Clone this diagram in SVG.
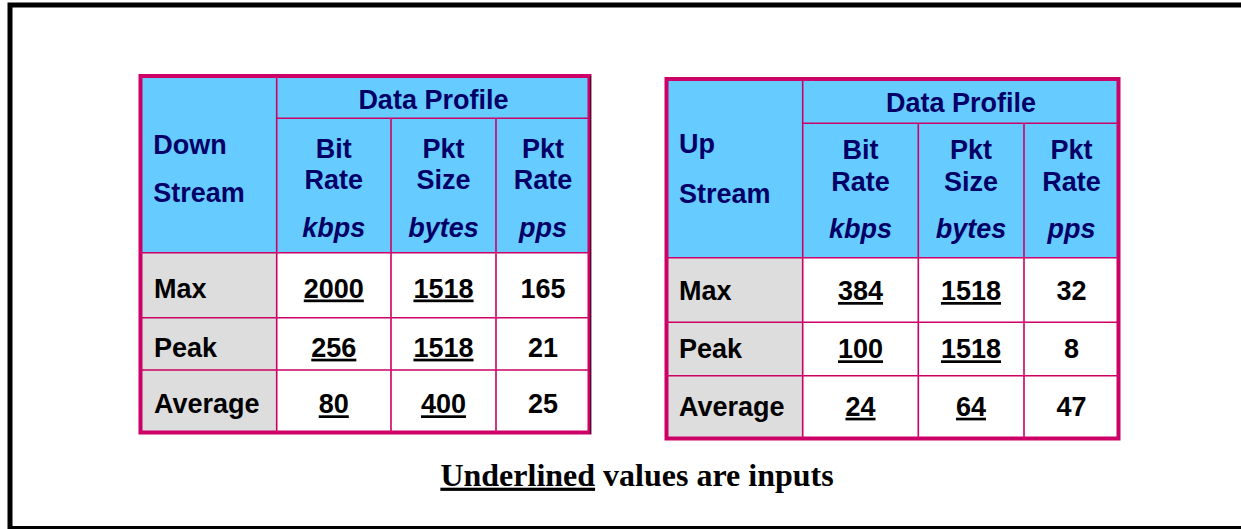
<svg xmlns="http://www.w3.org/2000/svg" width="1241" height="529" viewBox="0 0 1241 529">
<style>
.frame{fill:none;stroke:#000;stroke-width:5}
.outer{fill:none;stroke:#CC0066;stroke-width:4}
.grid{stroke:#CC0066;stroke-width:1.6;fill:none}
.hdr{fill:#66CCFF}
.gray{fill:#DDDDDD}
.cell{fill:#fff}
text{font-family:"Liberation Sans",Arial,Helvetica,sans-serif;font-weight:bold;font-size:27px}
.h{fill:#000066}
.hc{fill:#000066;text-anchor:middle}
.it{fill:#000066;text-anchor:middle;font-style:italic}
.lab{fill:#000}
.v{fill:#000;text-anchor:middle}
.u{text-decoration:underline}
.cap{font-family:"Liberation Serif","Times New Roman",serif;font-weight:bold;font-size:32px;fill:#000;text-anchor:middle}
</style>
<rect x="0" y="0" width="1241" height="529" fill="#fff"/>
<path class="frame" d="M1241,5 H10 V529 M10,528.5 H1241"/>

<g id="table-downstream">
<rect class="hdr" x="140.5" y="76" width="449" height="177"/>
<rect class="gray" x="140.5" y="253" width="136" height="179"/>
<rect class="cell" x="276.7" y="253" width="313" height="179"/>
<g class="grid">
<line x1="276.7" y1="76" x2="276.7" y2="432"/>
<line x1="391" y1="118.3" x2="391" y2="432"/>
<line x1="496" y1="118.3" x2="496" y2="432"/>
<line x1="276.7" y1="118.3" x2="589.5" y2="118.3"/>
<line x1="140.5" y1="252.7" x2="589.5" y2="252.7"/>
<line x1="140.5" y1="317.7" x2="589.5" y2="317.7"/>
<line x1="140.5" y1="370" x2="589.5" y2="370"/>
</g>
<rect class="outer" x="140.5" y="76" width="449" height="356.5"/>
<line x1="590.5" y1="76" x2="590.5" y2="434" stroke="#222" stroke-width="1"/>
<text class="h" x="153.3" y="153.5">Down</text>
<text class="h" x="153.3" y="201.7">Stream</text>
<text class="hc" x="433.4" y="109.3">Data Profile</text>
<text class="hc" x="333.8" y="158.3">Bit</text>
<text class="hc" x="333.8" y="189">Rate</text>
<text class="it" x="333.8" y="236.7">kbps</text>
<text class="hc" x="443.5" y="158.3">Pkt</text>
<text class="hc" x="443.5" y="189">Size</text>
<text class="it" x="443.5" y="236.7">bytes</text>
<text class="hc" x="543" y="158.3">Pkt</text>
<text class="hc" x="543" y="189">Rate</text>
<text class="it" x="543" y="236.7">pps</text>
<text class="lab" x="154" y="297.5">Max</text>
<text class="lab" x="154" y="356.7">Peak</text>
<text class="lab" x="154" y="413.3">Average</text>
<text class="v u" x="333.8" y="297.5">2000</text>
<text class="v u" x="443.5" y="297.5">1518</text>
<text class="v" x="543" y="297.5">165</text>
<text class="v u" x="333.8" y="356.7">256</text>
<text class="v u" x="443.5" y="356.7">1518</text>
<text class="v" x="543" y="356.7">21</text>
<text class="v u" x="333.8" y="413.3">80</text>
<text class="v u" x="443.5" y="413.3">400</text>
<text class="v" x="543" y="413.3">25</text>
</g>

<g id="table-upstream">
<rect class="hdr" x="666.5" y="79" width="452" height="178.7"/>
<rect class="gray" x="666.5" y="257.7" width="136.2" height="181"/>
<rect class="cell" x="802.7" y="257.7" width="316" height="181"/>
<g class="grid">
<line x1="802.7" y1="79" x2="802.7" y2="438.5"/>
<line x1="918.3" y1="123.3" x2="918.3" y2="438.5"/>
<line x1="1024" y1="123.3" x2="1024" y2="438.5"/>
<line x1="802.7" y1="123.3" x2="1118.5" y2="123.3"/>
<line x1="666.5" y1="257.7" x2="1118.5" y2="257.7"/>
<line x1="666.5" y1="322.3" x2="1118.5" y2="322.3"/>
<line x1="666.5" y1="375.7" x2="1118.5" y2="375.7"/>
</g>
<rect class="outer" x="666.5" y="79" width="452" height="359.5"/>
<text class="h" x="679" y="153.3">Up</text>
<text class="h" x="679" y="202.7">Stream</text>
<text class="hc" x="961" y="111.7">Data Profile</text>
<text class="hc" x="860.5" y="159">Bit</text>
<text class="hc" x="860.5" y="190.7">Rate</text>
<text class="it" x="860.5" y="238.3">kbps</text>
<text class="hc" x="971" y="159">Pkt</text>
<text class="hc" x="971" y="190.7">Size</text>
<text class="it" x="971" y="238.3">bytes</text>
<text class="hc" x="1071.5" y="159">Pkt</text>
<text class="hc" x="1071.5" y="190.7">Rate</text>
<text class="it" x="1071.5" y="238.3">pps</text>
<text class="lab" x="679" y="300">Max</text>
<text class="lab" x="679" y="358.3">Peak</text>
<text class="lab" x="679" y="415.7">Average</text>
<text class="v u" x="860.5" y="300">384</text>
<text class="v u" x="971" y="300">1518</text>
<text class="v" x="1071.5" y="300">32</text>
<text class="v u" x="860.5" y="358.3">100</text>
<text class="v u" x="971" y="358.3">1518</text>
<text class="v" x="1071.5" y="358.3">8</text>
<text class="v u" x="860.5" y="415.7">24</text>
<text class="v u" x="971" y="415.7">64</text>
<text class="v" x="1071.5" y="415.7">47</text>
</g>

<g id="caption">
<text class="cap" x="637" y="485.7"><tspan class="u">Underlined</tspan> values are inputs</text>
</g>
</svg>
